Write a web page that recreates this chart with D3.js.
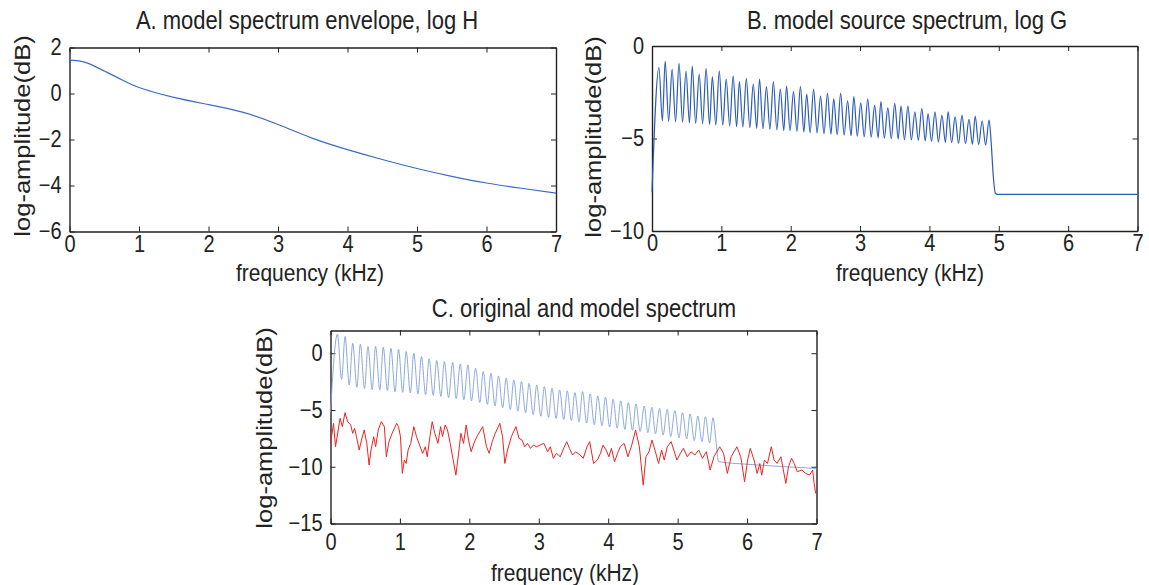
<!DOCTYPE html>
<meta charset="utf-8">
<style>
body { margin: 0; background: #fff; }
text { font-family: "Liberation Sans", Arial, sans-serif; fill: #222; }
.line { fill: none; }
</style>
<body>
<script src="https://d3js.org/d3.v7.min.js"></script>
<script>

// ---- data ----
var xTicks = [0, 1, 2, 3, 4, 5, 6, 7];

// A. envelope log H
var envKHz = [0, 0.1, 0.25, 0.5, 0.75, 1, 1.5, 2, 2.5, 3, 3.5, 4, 4.5, 5, 5.5, 6, 6.5, 7];
var envDb  = [1.45, 1.43, 1.33, 0.98, 0.6, 0.26, -0.17, -0.48, -0.82, -1.35, -1.95, -2.44, -2.87, -3.26, -3.6, -3.89, -4.12, -4.33];

// B. source spectrum log G (harmonic peaks / troughs)
var bPeakKHz = [0.10,0.19,0.29,0.39,0.49,0.58,0.68,0.78,0.87,0.97,
                1.07,1.17,1.26,1.36,1.46,1.55,1.65,1.75,1.85,1.94,
                2.04,2.14,2.23,2.33,2.43,2.53,2.62,2.72,2.82,2.91,
                3.01,3.11,3.21,3.30,3.40,3.50,3.59,3.69,3.79,3.89,
                3.98,4.08,4.18,4.27,4.37,4.47,4.57,4.66,4.76,4.86];
var bPeakDb = [-1.17,-0.81,-1.25,-0.94,-1.35,-1.08,-1.52,-1.21,-1.66,-1.35,
               -1.79,-1.62,-1.93,-1.75,-2.06,-1.79,-2.20,-1.93,-2.33,-2.17,
               -2.47,-2.20,-2.60,-2.33,-2.71,-2.56,-2.85,-2.56,-2.96,-2.74,
               -3.07,-2.85,-3.21,-3.00,-3.34,-3.10,-3.25,-3.25,-3.56,-3.38,
               -3.65,-3.56,-3.74,-3.56,-3.83,-3.74,-3.97,-3.79,-4.04,-4.00];
var bTroughKHz = [0.15,0.24,0.34,0.44,0.54,0.63,0.73,0.83,0.92,1.02,
                  1.12,1.22,1.31,1.41,1.51,1.60,1.70,1.80,1.90,1.99,
                  2.09,2.19,2.28,2.38,2.48,2.58,2.67,2.77,2.87,2.96,
                  3.06,3.16,3.26,3.35,3.45,3.55,3.64,3.74,3.84,3.94,
                  4.03,4.13,4.23,4.32,4.42,4.52,4.62,4.71,4.81];
var bTroughDb = [-4.04,-4.08,-4.10,-4.12,-4.16,-4.18,-4.20,-4.24,-4.27,-4.28,
                 -4.32,-4.36,-4.38,-4.41,-4.45,-4.47,-4.50,-4.53,-4.57,-4.58,
                 -4.62,-4.65,-4.68,-4.70,-4.74,-4.76,-4.79,-4.82,-4.85,-4.87,
                 -4.91,-4.93,-4.96,-4.98,-5.01,-5.03,-5.06,-5.08,-5.10,-5.13,
                 -5.16,-5.18,-5.21,-5.23,-5.26,-5.28,-5.31,-5.33,-5.36];
var bHeadKHz = [0],  bHeadDb = [-7.9];
var bTailKHz = [4.89, 4.92, 4.95, 4.98, 7];
var bTailDb  = [-5.2, -7.0, -7.95, -8.02, -8.02];

// C. model spectrum (blue)
var cPeakKHz = [0.10,0.21,0.32,0.43,0.54,0.65,0.76,0.87,0.98,1.09,
                1.20,1.31,1.42,1.53,1.64,1.76,1.87,1.98,2.09,2.20,
                2.31,2.42,2.53,2.64,2.75,2.86,2.97,3.08,3.19,3.30,
                3.41,3.52,3.63,3.74,3.85,3.96,4.07,4.18,4.29,4.40,
                4.52,4.63,4.74,4.85,4.96,5.07,5.18,5.29,5.40,5.51];
var cPeakDb = [1.68,1.47,0.88,0.79,0.59,0.59,0.53,0.44,0.35,0.15,
               0.0,-0.29,-0.5,-0.65,-0.74,-0.82,-0.94,-1.03,-1.32,-1.62,
               -1.76,-2.0,-2.2,-2.35,-2.5,-2.65,-2.8,-2.94,-3.09,-3.24,
               -3.32,-3.47,-3.38,-3.59,-3.76,-3.88,-4.06,-4.2,-4.35,-4.47,
               -4.65,-4.76,-4.85,-4.94,-5.06,-5.24,-5.35,-5.53,-5.59,-5.68];
var cTroughKHz = [0.16,0.27,0.38,0.49,0.60,0.71,0.82,0.93,1.04,1.15,
                  1.26,1.37,1.48,1.59,1.70,1.81,1.92,2.03,2.15,2.26,
                  2.37,2.48,2.59,2.70,2.81,2.92,3.03,3.14,3.25,3.36,
                  3.47,3.58,3.69,3.80,3.91,4.02,4.13,4.24,4.35,4.46,
                  4.57,4.68,4.79,4.90,5.02,5.13,5.24,5.35,5.46];
var cTroughDb = [-2.3,-2.8,-3.0,-3.1,-3.2,-3.25,-3.3,-3.4,-3.45,-3.5,
                 -3.6,-3.65,-3.7,-3.8,-3.9,-4.0,-4.1,-4.2,-4.35,-4.5,
                 -4.65,-4.8,-4.95,-5.1,-5.25,-5.4,-5.55,-5.65,-5.75,-5.85,
                 -5.95,-6.05,-6.15,-6.3,-6.4,-6.5,-6.6,-6.7,-6.8,-6.9,
                 -7.0,-7.1,-7.2,-7.35,-7.45,-7.55,-7.7,-7.8,-7.9];
var cHeadKHz = [0],  cHeadDb = [-5.2];
var cTailKHz = [5.55, 5.59, 6.0, 6.5, 7];
var cTailDb  = [-7.6, -9.55, -9.78, -9.98, -10.15];

// C. original spectrum (red)
var origKHz = [0.00,0.044,0.072,0.138,0.171,0.209,0.248,0.292,0.319,0.347,
               0.374,0.413,0.446,0.485,0.523,0.556,0.584,0.622,0.650,0.688,
               0.732,0.776,0.804,0.842,0.887,0.953,0.980,1.008,1.035,1.063,
               1.090,1.118,1.156,1.200,1.239,1.283,1.327,1.366,1.393,1.432,
               1.465,1.503,1.547,1.586,1.613,1.652,1.685,1.724,1.806,1.845,
               1.878,1.916,1.955,1.988,2.026,2.065,2.109,2.192,2.247,2.285,
               2.329,2.373,2.439,2.478,2.511,2.550,2.605,2.671,2.715,2.759,
               2.797,2.836,2.880,2.924,2.963,3.018,3.073,3.128,3.166,3.210,
               3.254,3.310,3.348,3.403,3.442,3.486,3.530,3.596,3.640,3.695,
               3.733,3.789,3.844,3.888,3.926,3.970,4.009,4.047,4.091,4.135,
               4.174,4.229,4.284,4.339,4.394,4.449,4.504,4.543,4.587,4.631,
               4.686,4.725,4.769,4.807,4.851,4.906,4.945,4.989,5.039,5.083,
               5.138,5.193,5.248,5.303,5.358,5.413,5.468,5.523,5.606,5.661,
               5.716,5.771,5.853,5.909,5.964,6.008,6.046,6.101,6.145,6.184,
               6.211,6.250,6.294,6.349,6.388,6.432,6.487,6.558,6.597,6.641,
               6.679,6.723,6.790,6.845,6.900,6.944,6.966,6.988];
var origDb = [-7.94,-6.18,-8.24,-5.74,-6.47,-5.24,-6.03,-6.32,-7.06,-6.62,
              -7.35,-8.53,-7.65,-6.76,-7.94,-9.85,-8.53,-7.35,-8.24,-6.76,
              -6.03,-6.47,-9.12,-7.79,-7.06,-6.18,-6.47,-7.35,-10.59,-9.41,
              -9.71,-8.53,-7.94,-6.47,-7.35,-8.09,-8.82,-8.24,-9.12,-7.35,
              -6.03,-7.06,-7.94,-6.47,-7.35,-6.32,-6.76,-7.94,-10.74,-8.82,
              -7.06,-7.94,-6.32,-7.65,-8.68,-7.94,-7.35,-6.47,-8.24,-8.82,
              -7.79,-7.06,-6.18,-7.35,-9.71,-8.53,-7.35,-6.47,-7.50,-7.65,
              -8.24,-7.94,-8.38,-8.09,-8.24,-8.09,-7.94,-8.68,-8.24,-9.26,
              -8.82,-9.12,-8.53,-7.79,-8.38,-8.97,-8.68,-8.97,-9.26,-8.24,
              -7.79,-9.71,-9.41,-8.82,-8.09,-8.53,-9.12,-8.38,-9.56,-8.82,
              -8.24,-7.94,-9.12,-8.09,-6.76,-8.24,-11.62,-9.12,-8.68,-7.65,
              -8.82,-9.71,-8.53,-9.41,-8.24,-7.79,-8.53,-9.41,-8.82,-8.38,
              -9.12,-8.68,-8.97,-8.53,-9.26,-8.68,-10.29,-9.12,-8.24,-8.82,
              -10.59,-9.12,-8.24,-9.12,-11.32,-9.41,-8.38,-9.41,-10.59,-9.71,
              -10.74,-9.41,-9.71,-8.24,-9.41,-9.71,-9.12,-11.47,-10.00,-9.26,
              -9.71,-10.44,-10.29,-10.59,-10.74,-10.29,-11.47,-12.35];

// ---- drawing ----
var S = 1.16; // the figure looks a bit stretched vertically

var svg = d3.select("body").append("svg")
    .attr("width", 1149)
    .attr("height", 585);

// merge peaks and troughs into one point list, sorted by frequency
function comb(headK, headD, pk, pd, tk, td, tailK, tailD) {
  var pts = d3.zip(headK, headD)
    .concat(d3.zip(pk, pd), d3.zip(tk, td), d3.zip(tailK, tailD));
  return pts.sort(function(a, b) { return a[0] - b[0]; });
}

function htext(x, y, str, size) {
  svg.append("text")
    .attr("text-anchor", "middle")
    .attr("font-size", size)
    .attr("transform", "translate(" + x + "," + y + ") scale(1," + S + ")")
    .text(str);
}

function vtext(x, y, str, size) {
  svg.append("text")
    .attr("text-anchor", "middle")
    .attr("font-size", size)
    .attr("transform", "translate(" + x + "," + y + ") rotate(-90) scale(" + S + ",1)")
    .text(str);
}

function panel(p) {
  var x = d3.scaleLinear().domain([0, 7]).range([p.left, p.right]);
  var y = d3.scaleLinear().domain(p.yDomain).range([p.bottom, p.top]);
  var fmt = d3.format("d");

  var gx = svg.append("g")
      .attr("transform", "translate(0," + p.bottom + ")")
      .call(d3.axisBottom(x).tickValues(xTicks).tickFormat(fmt)
            .tickSizeInner(-5).tickSizeOuter(0).tickPadding(p.xPad));
  var gy = svg.append("g")
      .attr("transform", "translate(" + p.left + ",0)")
      .call(d3.axisLeft(y).tickValues(p.yTicks).tickFormat(fmt)
            .tickSizeInner(-5).tickSizeOuter(0).tickPadding(8));
  svg.append("g")
      .attr("transform", "translate(0," + p.top + ")")
      .call(d3.axisTop(x).tickValues(xTicks).tickFormat("")
            .tickSizeInner(-5).tickSizeOuter(0));
  svg.append("g")
      .attr("transform", "translate(" + p.right + ",0)")
      .call(d3.axisRight(y).tickValues(p.yTicks).tickFormat("")
            .tickSizeInner(-5).tickSizeOuter(0));

  [gx, gy].forEach(function(g) {
    g.attr("font-size", 20).attr("color", "#222");
    g.selectAll(".tick text").attr("transform", "scale(1," + S + ")");
  });
  gx.selectAll(".tick text").attr("y", p.xPad / S);
  svg.selectAll(".domain").attr("stroke", "#222").attr("stroke-width", 1.4);
  svg.selectAll(".tick line").attr("stroke", "#222");

  htext(p.titleX, p.titleY, p.title, 22);
  htext(p.xlabX, p.xlabY, "frequency (kHz)", 21);
  vtext(p.ylabX, p.ylabY, "log-amplitude(dB)", 22);

  return { x: x, y: y };
}

function drawLine(sc, pts, color, width, curve) {
  svg.append("path")
    .datum(pts)
    .attr("class", "line")
    .attr("stroke", color)
    .attr("stroke-width", width)
    .attr("d", d3.line()
      .x(function(d) { return sc.x(d[0]); })
      .y(function(d) { return sc.y(d[1]); })
      .curve(curve));
}

var A = panel({left: 69.5, right: 556, top: 47.5, bottom: 231.5,
  yDomain: [-6, 2], yTicks: [-6, -4, -2, 0, 2], xPad: 4,
  title: "A. model spectrum envelope, log H", titleX: 307, titleY: 29,
  xlabX: 310, xlabY: 281, ylabX: 29.5, ylabY: 136});
drawLine(A, d3.zip(envKHz, envDb), "#3a6cc6", 1.2, d3.curveNatural);

var B = panel({left: 652, right: 1137.5, top: 46, bottom: 231,
  yDomain: [-10, 0], yTicks: [-10, -5, 0], xPad: 4,
  title: "B. model source spectrum, log G", titleX: 907, titleY: 29,
  xlabX: 910, xlabY: 281, ylabX: 601, ylabY: 137});
drawLine(B, comb(bHeadKHz, bHeadDb, bPeakKHz, bPeakDb, bTroughKHz, bTroughDb, bTailKHz, bTailDb),
  "#2b5bb5", 1.2, d3.curveMonotoneX);

var C = panel({left: 330.5, right: 816.5, top: 330.5, bottom: 523.5,
  yDomain: [-15, 2], yTicks: [-15, -10, -5, 0], xPad: 10,
  title: "C. original and model spectrum", titleX: 584, titleY: 317,
  xlabX: 565, xlabY: 581, ylabX: 272, ylabY: 428});
drawLine(C, comb(cHeadKHz, cHeadDb, cPeakKHz, cPeakDb, cTroughKHz, cTroughDb, cTailKHz, cTailDb),
  "#7f9fd8", 0.9, d3.curveMonotoneX);
drawLine(C, d3.zip(origKHz, origDb), "#ee2222", 1, d3.curveLinear);

</script>
</body>
